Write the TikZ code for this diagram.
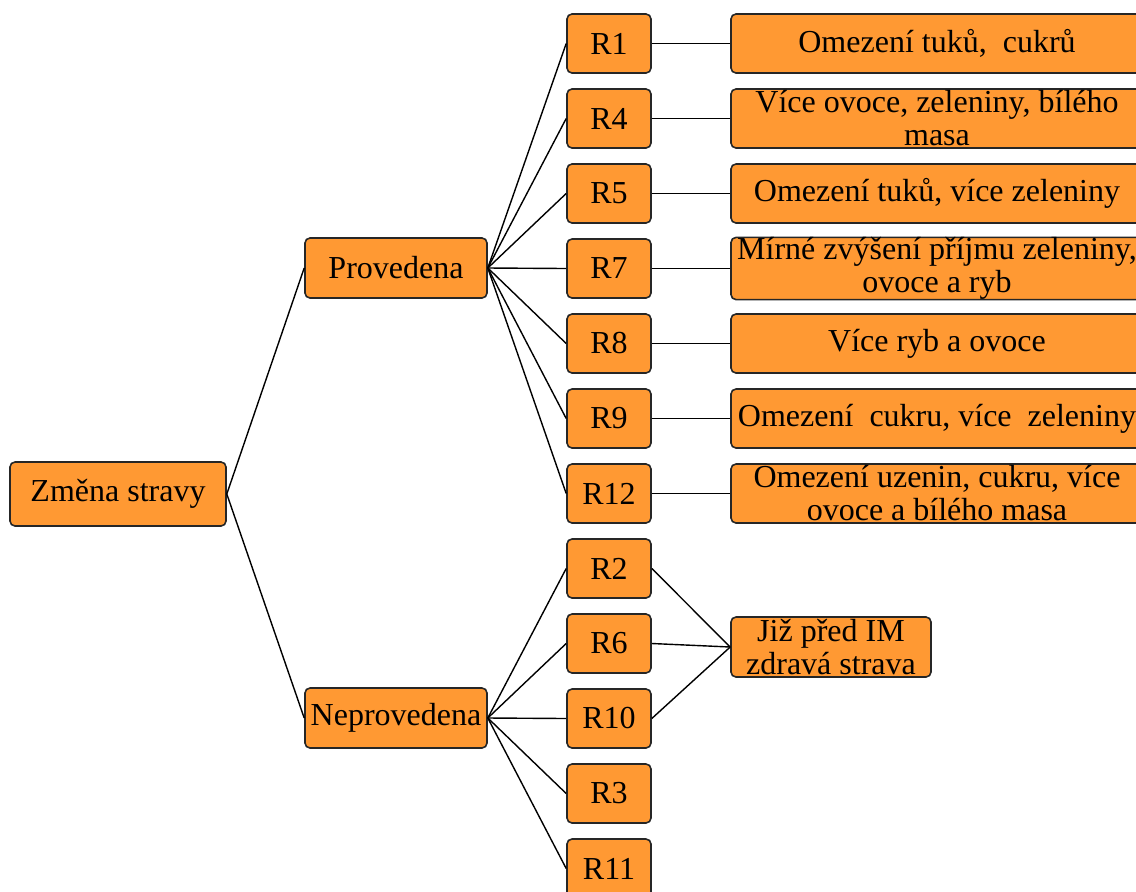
\documentclass[tikz,border=0pt]{standalone}
\usepackage{fontspec}
\setmainfont{Liberation Serif}

\definecolor{boxorange}{RGB}{255,153,51}
\tikzset{
  box/.style={draw=black!85, fill=boxorange, rounded corners=2.5pt, line width=0.8pt,
              inner sep=0pt, align=center, font=\fontsize{16}{16.5}\selectfont},
  rbox/.style={box, minimum width=42pt, minimum height=29.5pt},
  tbox/.style={box, minimum width=206pt, minimum height=29.5pt},
  link/.style={line width=0.7pt}
}

\begin{document}
\begin{tikzpicture}[x=0.5pt,y=-0.5pt]

\useasboundingbox (0,0) rectangle (1136,891);
\clip (0,0) rectangle (1136,891);

\node[box, minimum width=108pt, minimum height=32pt] (change)  at (118,494) {Změna stravy};
\node[box, minimum width=91pt,  minimum height=30pt] (done)    at (396,268) {Provedena};
\node[box, minimum width=91pt,  minimum height=30pt] (notdone) at (396,718) {Neprovedena};

\draw[link] (change.east) -- (done.west);
\draw[link] (change.east) -- (notdone.west);

% provedena
\foreach \r/\k/\txt in {1/0/{Omezení tuků,\ \ cukrů},
                        4/1/{Více ovoce, zeleniny, bílého\\masa},
                        5/2/{Omezení tuků, více zeleniny},
                        7/3/{Mírné zvýšení příjmu zeleniny,\\ovoce a ryb},
                        8/4/{Více ryb a ovoce},
                        9/5/{Omezení\ \ cukru, více\ \ zeleniny},
                        12/6/{Omezení uzenin, cukru, více\\ovoce a bílého masa}} {
  \node[rbox] (r\r) at (609,43.5+75*\k) {R\r};
  \node[tbox] (t\r) at (937,43.5+75*\k) {\txt};
  \draw[link] (done.east) -- (r\r.west);
  \draw[link] (r\r.east) -- (t\r.west);
}

% neprovedena
\foreach \r/\k in {2/7,6/8,10/9,3/10,11/11} {
  \node[rbox] (r\r) at (609,43.5+75*\k) {R\r};
  \draw[link] (notdone.east) -- (r\r.west);
}

\node[box, minimum width=100pt, minimum height=30pt] (healthy) at (831,647) {Již před IM\\zdravá strava};

\foreach \r in {2,6,10} {
  \draw[link] (r\r.east) -- (healthy.west);
}

\end{tikzpicture}
\end{document}
